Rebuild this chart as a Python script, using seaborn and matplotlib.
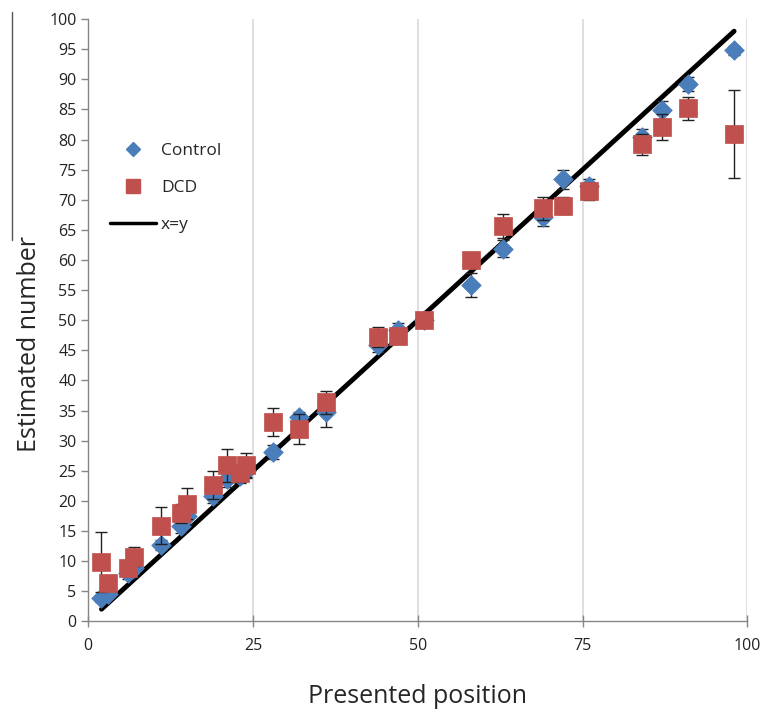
import numpy as np
import pandas as pd
import matplotlib.pyplot as plt
from matplotlib.lines import Line2D
import seaborn as sns

# ── Data ──────────────────────────────────────────────────────────────────────
positions = [2, 3, 6, 7, 11, 14, 15, 19, 21, 23, 24, 28, 32, 36, 44, 47, 51,
             58, 63, 69, 72, 76, 84, 87, 91, 98]
control_mean = [3.8, 4.6, 8.0, 8.8, 12.7, 15.9, 17.5, 20.8, 23.6, 24.1, 25.0,
                28.1, 33.9, 34.8, 45.8, 48.4, 50.0, 55.9, 61.9, 67.2, 73.4,
                72.3, 80.5, 84.9, 89.2, 94.8]
control_err = [0.6, 0.7, 0.9, 0.9, 0.8, 1.2, 1.3, 1.1, 1.3, 1.2, 1.2, 1.2, 0.9,
               2.5, 1.0, 1.2, 0.8, 2.0, 1.4, 1.6, 1.6, 1.2, 1.2, 1.5, 1.2, 0.8]
dcd_mean = [9.9, 6.3, 8.8, 10.7, 15.9, 17.9, 19.5, 22.6, 25.9, 24.6, 25.9,
            33.1, 31.9, 36.4, 47.2, 47.3, 50.1, 60.0, 65.6, 68.6, 69.0, 71.4,
            79.2, 82.1, 85.2, 81.0]
dcd_err = [5.0, 1.0, 1.2, 1.6, 3.0, 1.5, 2.6, 2.3, 2.7, 1.5, 2.0, 2.4, 2.5,
           1.9, 1.6, 1.2, 0.8, 0.8, 2.0, 1.9, 1.4, 1.4, 1.7, 2.2, 1.9, 7.3]
identity_x = [2, 98]

BLUE = "#4A7EBB"
RED = "#C0504D"

sns.set_theme(style="white")
plt.rcParams["font.family"] = ["Open Sans", "DejaVu Sans"]

df = pd.DataFrame({
    "position": positions * 2,
    "estimate": control_mean + dcd_mean,
    "err": control_err + dcd_err,
    "group": ["Control"] * len(positions) + ["DCD"] * len(positions),
})

fig = plt.figure(figsize=(7.61, 7.10), dpi=100)
ax = fig.add_axes([0.116, 0.125, 0.866, 0.848])

# vertical gridlines only
for gx in [25, 50, 75, 100]:
    ax.axvline(gx, color="#d9d9d9", linewidth=1.2, zorder=0)

# x = y reference line
sns.lineplot(x=identity_x, y=identity_x, color="black", linewidth=3.5,
             ax=ax, zorder=2)

markers = {"Control": "D", "DCD": "s"}
colors = {"Control": BLUE, "DCD": RED}
sizes = {"Control": 100, "DCD": 160}
for i, (name, sub) in enumerate(df.groupby("group")):
    ax.errorbar(sub["position"], sub["estimate"], yerr=sub["err"], fmt="none",
                ecolor="#222222", elinewidth=1.0, capsize=4, capthick=1.0,
                zorder=3 + 2 * i)
    sns.scatterplot(data=sub, x="position", y="estimate", marker=markers[name],
                    color=colors[name], s=sizes[name], edgecolor=colors[name],
                    linewidth=0.5, ax=ax, zorder=4 + 2 * i, legend=False)

ax.set_xlim(0, 100)
ax.set_ylim(0, 100)
ax.set_xticks([0, 25, 50, 75, 100])
ax.set_yticks(np.arange(0, 101, 5))
ax.tick_params(axis="both", labelsize=11.5, colors="#868686", labelcolor="#222222")
ax.tick_params(axis="y", direction="out", length=5, width=1, left=True)
ax.tick_params(axis="x", direction="inout", length=8, width=1, bottom=True, pad=8)

for side in ["top", "right"]:
    ax.spines[side].set_visible(False)
for side in ["left", "bottom"]:
    ax.spines[side].set_color("#868686")
    ax.spines[side].set_linewidth(1.0)

ax.set_xlabel("Presented position", fontsize=18, labelpad=22)
ax.set_ylabel("Estimated number", fontsize=18)
ax.yaxis.set_label_coords(-0.07, 0.46)

handles = [
    Line2D([], [], marker="D", color=BLUE, linestyle="none", markersize=7.5,
           label="Control"),
    Line2D([], [], marker="s", color=RED, linestyle="none", markersize=10,
           label="DCD"),
    Line2D([], [], color="black", linewidth=2.5, label="x=y"),
]
ax.legend(handles=handles, loc="upper left", bbox_to_anchor=(0.01, 0.82),
          frameon=False, fontsize=12.5, handlelength=2.6, labelspacing=1.2,
          handletextpad=0.3)

# stray vertical rule at the left edge of the original figure
fig.add_artist(Line2D([12 / 761, 12 / 761], [1 - 12 / 710, 1 - 240 / 710],
                      color="#555555", linewidth=1.0))

fig.savefig("out.png", dpi=100)
